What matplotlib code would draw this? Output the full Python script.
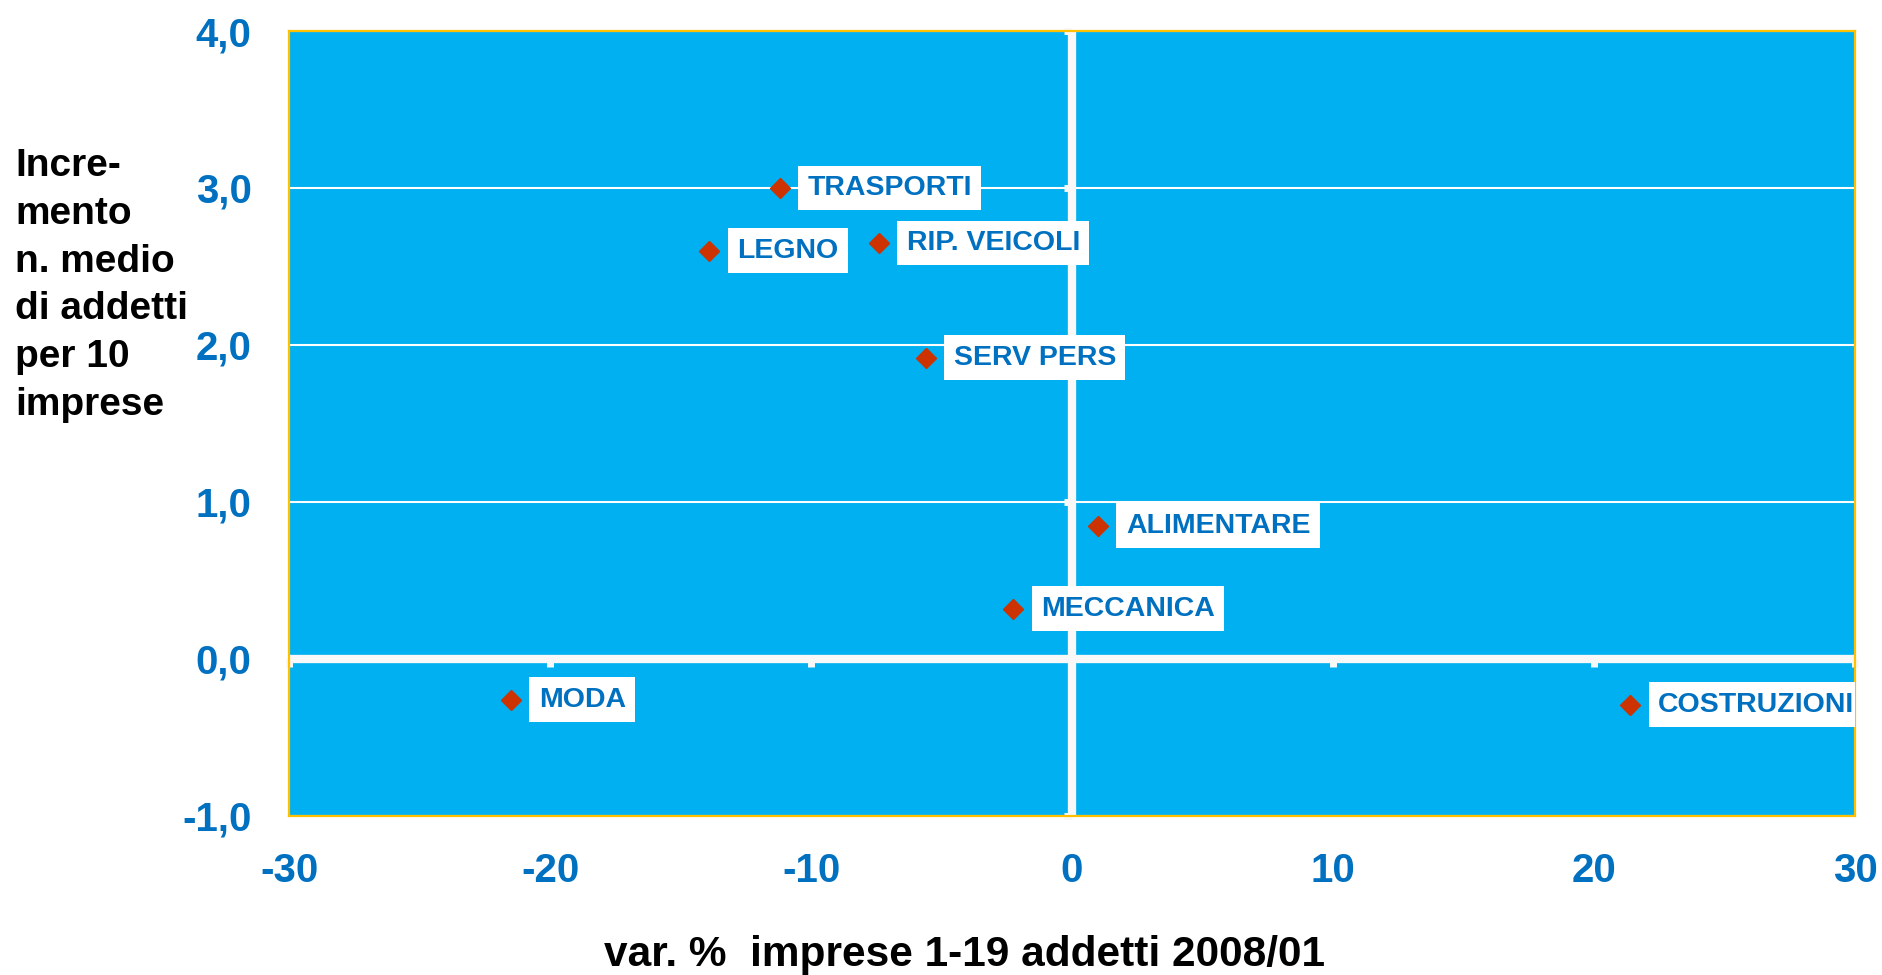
import matplotlib.pyplot as plt
from matplotlib.markers import TICKDOWN, TICKLEFT

# Settori: variazione % imprese 1-19 addetti vs incremento addetti medi
settori = ["TRASPORTI", "LEGNO", "RIP. VEICOLI", "SERV PERS",
           "ALIMENTARE", "MECCANICA", "MODA", "COSTRUZIONI"]
var_imprese = [-11.2, -13.9, -7.4, -5.6, 1.0, -2.25, -21.5, 21.4]
incr_addetti = [3.0, 2.6, 2.65, 1.92, 0.85, 0.32, -0.26, -0.29]

x_ticks = [-30, -20, -10, 0, 10, 20, 30]
y_ticks = [-1, 0, 1, 2, 3, 4]
y_tick_labels = ["-1,0", "0,0", "1,0", "2,0", "3,0", "4,0"]

BLUE_BG = "#00B0F0"
BLUE_TXT = "#0070C0"
RED = "#CC3300"
GOLD = "#FFC000"

plt.rcParams["font.family"] = ["Liberation Sans", "DejaVu Sans"]

fig = plt.figure(figsize=(18.83, 9.75), dpi=100)
ax = fig.add_axes([0.1535, 0.1631, 0.8316, 0.8051])
ax.set_facecolor(BLUE_BG)
ax.set_xlim(-30, 30)
ax.set_ylim(-1, 4)

for s in ax.spines.values():
    s.set_color(GOLD)
    s.set_linewidth(1.6)

ax.set_xticks(x_ticks)
ax.set_xticklabels([str(v) for v in x_ticks])
ax.set_yticks(y_ticks)
ax.set_yticklabels(y_tick_labels)
ax.tick_params(length=0, labelcolor=BLUE_TXT, labelsize=29)
ax.tick_params(axis="x", pad=26)
ax.tick_params(axis="y", pad=27)
for lab in ax.get_xticklabels() + ax.get_yticklabels():
    lab.set_fontweight("bold")

ax.set_axisbelow(True)
ax.grid(axis="y", color="white", linewidth=1.5)
ax.grid(axis="x", visible=False)

# assi dello zero con tacche
ax.axhline(0, color="#F8F8F8", linewidth=6, zorder=2)
ax.axvline(0, color="#F8F8F8", linewidth=6, zorder=2)
ax.plot(x_ticks, [0] * len(x_ticks), linestyle="none", marker=TICKDOWN,
        markersize=6, markeredgewidth=5, color="#F8F8F8", clip_on=False, zorder=2)
ax.plot([0] * len(y_ticks), y_ticks, linestyle="none", marker=TICKLEFT,
        markersize=6, markeredgewidth=5, color="#F8F8F8", clip_on=False, zorder=2)

ax.plot(var_imprese, incr_addetti, linestyle="none", marker="D",
        markersize=10, color=RED, zorder=4)

for name, x, y in zip(settori, var_imprese, incr_addetti):
    ax.annotate(name, (x, y), xytext=(20, 0), textcoords="offset points",
                va="center", ha="left", fontsize=20.5, fontweight="bold",
                color=BLUE_TXT, zorder=5, annotation_clip=False, clip_on=True,
                bbox=dict(boxstyle="square,pad=0.33", facecolor="white",
                          edgecolor="none"))

fig.text(0.008, 0.848, "Incre-\nmento\nn. medio\ndi addetti\nper 10\nimprese",
         ha="left", va="top", fontsize=28, fontweight="bold", color="black",
         linespacing=1.42)

fig.text(0.512, 0.009, "var. %  imprese 1-19 addetti 2008/01",
         ha="center", va="baseline", fontsize=30.5, fontweight="bold",
         color="black")

fig.savefig("out.png", dpi=100)
